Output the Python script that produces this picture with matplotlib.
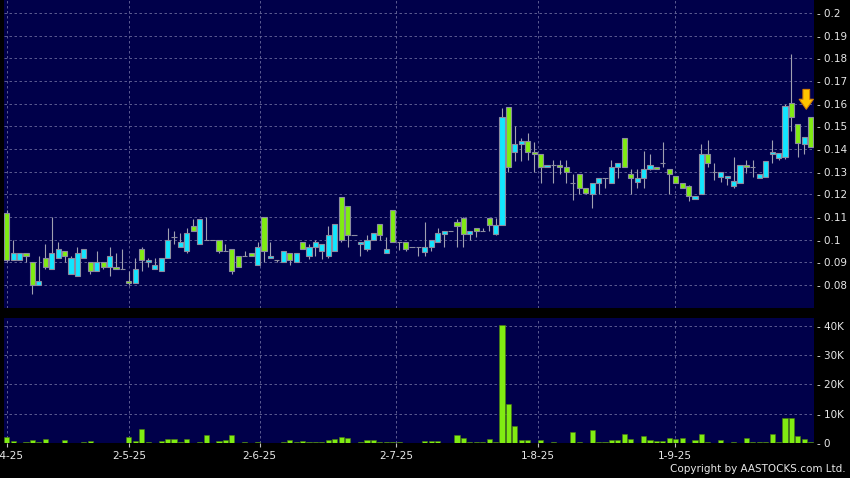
import numpy as np
import matplotlib
matplotlib.use("Agg")
import matplotlib.pyplot as plt
from matplotlib.ticker import FuncFormatter

# daily candles, 1 Apr 2025 .. end Sep 2025
opens = [0.112, 0.091, 0.091, 0.094, 0.090, 0.080, 0.092, 0.087, 0.092, 0.095,
         0.085, 0.084, 0.092, 0.090, 0.086, 0.090, 0.088, 0.088, 0.087, 0.082,
         0.081, 0.096, 0.090, 0.087, 0.086, 0.092, 0.101, 0.097, 0.095, 0.106,
         0.098, 0.100, 0.100, 0.100, 0.095, 0.096, 0.093, 0.093, 0.094, 0.089,
         0.110, 0.092, 0.091, 0.090, 0.094, 0.090, 0.099, 0.093, 0.097, 0.095,
         0.093, 0.095, 0.119, 0.115, 0.102, 0.098, 0.096, 0.100, 0.107, 0.094,
         0.113, 0.099, 0.099, 0.097, 0.097, 0.0946, 0.097, 0.099, 0.1026, 0.104,
         0.108, 0.1096, 0.1026, 0.105, 0.104, 0.1096, 0.1026, 0.1066, 0.1585, 0.1387,
         0.142, 0.1437, 0.1387, 0.1378, 0.132, 0.1328, 0.133, 0.132, 0.125, 0.1288,
         0.123, 0.120, 0.125, 0.127, 0.125, 0.132, 0.145, 0.129, 0.1256, 0.127,
         0.131, 0.132, 0.134, 0.131, 0.128, 0.125, 0.1238, 0.1178, 0.120, 0.138,
         0.130, 0.1278, 0.1271, 0.1238, 0.1249, 0.1331, 0.1319, 0.1271, 0.1278, 0.1378,
         0.1359, 0.1366, 0.1601, 0.1509, 0.142, 0.154]
highs = [0.113, 0.100, 0.094, 0.094, 0.090, 0.093, 0.098, 0.110, 0.099, 0.095,
         0.093, 0.097, 0.096, 0.090, 0.095, 0.090, 0.097, 0.094, 0.096, 0.086,
         0.092, 0.097, 0.092, 0.092, 0.092, 0.105, 0.104, 0.103, 0.105, 0.109,
         0.109, 0.110, 0.100, 0.100, 0.098, 0.096, 0.093, 0.095, 0.094, 0.099,
         0.110, 0.099, 0.091, 0.095, 0.094, 0.094, 0.099, 0.098, 0.100, 0.098,
         0.106, 0.107, 0.119, 0.115, 0.102, 0.099, 0.102, 0.103, 0.107, 0.101,
         0.113, 0.099, 0.099, 0.097, 0.097, 0.108, 0.100, 0.105, 0.104, 0.104,
         0.109, 0.110, 0.104, 0.105, 0.105, 0.1096, 0.1096, 0.158, 0.1585, 0.150,
         0.145, 0.147, 0.143, 0.138, 0.133, 0.135, 0.135, 0.135, 0.129, 0.129,
         0.123, 0.125, 0.127, 0.127, 0.135, 0.134, 0.145, 0.131, 0.131, 0.139,
         0.138, 0.132, 0.143, 0.131, 0.128, 0.125, 0.124, 0.1193, 0.142, 0.144,
         0.134, 0.130, 0.1281, 0.1366, 0.1329, 0.1353, 0.1353, 0.1288, 0.1349, 0.144,
         0.1381, 0.160, 0.182, 0.1509, 0.1451, 0.154]
lows = [0.090, 0.091, 0.091, 0.090, 0.076, 0.080, 0.087, 0.087, 0.092, 0.090,
        0.085, 0.084, 0.092, 0.085, 0.086, 0.087, 0.084, 0.087, 0.087, 0.080,
        0.081, 0.086, 0.088, 0.087, 0.086, 0.092, 0.098, 0.097, 0.094, 0.104,
        0.098, 0.100, 0.100, 0.094, 0.095, 0.085, 0.088, 0.093, 0.093, 0.089,
        0.090, 0.092, 0.090, 0.090, 0.089, 0.090, 0.096, 0.0915, 0.093, 0.0915,
        0.092, 0.095, 0.099, 0.097, 0.102, 0.093, 0.095, 0.100, 0.100, 0.094,
        0.099, 0.0955, 0.095, 0.097, 0.093, 0.093, 0.095, 0.099, 0.097, 0.104,
        0.097, 0.097, 0.100, 0.101, 0.104, 0.104, 0.102, 0.1066, 0.130, 0.1346,
        0.1346, 0.135, 0.130, 0.125, 0.132, 0.125, 0.129, 0.125, 0.1175, 0.120,
        0.120, 0.114, 0.120, 0.123, 0.125, 0.127, 0.132, 0.120, 0.123, 0.123,
        0.1307, 0.131, 0.132, 0.120, 0.125, 0.123, 0.117, 0.1178, 0.120, 0.132,
        0.1263, 0.1256, 0.124, 0.123, 0.1249, 0.1294, 0.1278, 0.1271, 0.1278, 0.134,
        0.1352, 0.1356, 0.148, 0.1366, 0.138, 0.1407]
closes = [0.091, 0.094, 0.094, 0.093, 0.080, 0.082, 0.088, 0.094, 0.096, 0.093,
          0.092, 0.094, 0.096, 0.086, 0.090, 0.088, 0.093, 0.087, 0.087, 0.081,
          0.087, 0.091, 0.091, 0.089, 0.092, 0.100, 0.101, 0.099, 0.103, 0.104,
          0.109, 0.100, 0.100, 0.095, 0.095, 0.086, 0.088, 0.093, 0.093, 0.097,
          0.095, 0.093, 0.091, 0.095, 0.091, 0.094, 0.096, 0.097, 0.099, 0.098,
          0.102, 0.107, 0.100, 0.102, 0.102, 0.099, 0.100, 0.103, 0.102, 0.096,
          0.099, 0.099, 0.096, 0.097, 0.097, 0.097, 0.100, 0.103, 0.104, 0.104,
          0.106, 0.1026, 0.104, 0.104, 0.104, 0.1066, 0.1066, 0.154, 0.132, 0.142,
          0.1437, 0.1387, 0.1378, 0.132, 0.133, 0.1328, 0.132, 0.130, 0.125, 0.123,
          0.1207, 0.125, 0.127, 0.127, 0.132, 0.134, 0.132, 0.127, 0.127, 0.131,
          0.133, 0.131, 0.134, 0.129, 0.125, 0.123, 0.1193, 0.1193, 0.138, 0.134,
          0.130, 0.130, 0.1281, 0.1259, 0.1329, 0.132, 0.1319, 0.1288, 0.1349, 0.1388,
          0.1381, 0.159, 0.154, 0.1428, 0.1451, 0.1407]
# volume in thousands of shares
volumes = [2.2, 0.6, 0.1, 0.3, 1.0, 0.3, 1.4, 0.1, 0.1, 0.9,
           0.1, 0.1, 0.3, 0.8, 0.1, 0.1, 0.1, 0.1, 0.1, 2.0,
           0.8, 4.9, 0.2, 0.1, 0.6, 1.4, 1.4, 0.3, 1.2, 0.1,
           0.3, 2.6, 0.1, 0.7, 1.1, 2.7, 0.1, 0.3, 0.1, 0.3,
           0.1, 0.1, 0.1, 0.4, 1.1, 0.2, 0.8, 0.3, 0.4, 0.4,
           1.1, 1.4, 2.2, 1.8, 0.1, 0.3, 0.9, 1.0, 0.4, 0.4,
           0.4, 0.3, 0.1, 0.1, 0.1, 0.7, 0.6, 0.6, 0.1, 0.1,
           2.7, 1.8, 0.3, 0.3, 0.3, 1.5, 0.3, 40.2, 13.4, 5.8,
           1.0, 1.0, 0.1, 0.9, 0.1, 0.2, 0.1, 0.1, 3.6, 0.3,
           0.1, 4.4, 0.3, 0.3, 1.0, 0.9, 3.2, 1.4, 0.1, 2.3,
           1.0, 0.7, 0.8, 1.8, 1.5, 1.8, 0.1, 0.9, 3.2, 0.4,
           0.1, 1.0, 0.1, 0.4, 0.1, 1.8, 0.2, 0.2, 0.2, 3.2,
           0.3, 8.7, 8.7, 2.3, 1.5, 0.3]
date_labels = ["1-4-25", "2-5-25", "2-6-25", "2-7-25", "1-8-25", "1-9-25"]
date_pos = [0, 19.05, 39.3, 60.5, 82.6, 103.9]
price_ticks = [0.08, 0.09, 0.10, 0.11, 0.12, 0.13, 0.14, 0.15, 0.16, 0.17, 0.18, 0.19, 0.20]
vol_ticks = [0, 10, 20, 30, 40]

BG = "#00004a"
UP = "#12e6ff"
DOWN = "#80ec12"
EDGE = "#8c8ca0"
GRID = "#6a6a9c"
TXT = "#e8e8e8"
FS = 7.5

o = np.array(opens); h = np.array(highs); l = np.array(lows); c = np.array(closes)
x = np.arange(len(o))
up = c >= o
colors = np.where(up, UP, DOWN)

fig = plt.figure(figsize=(8.5, 4.78), dpi=100, facecolor="black")
ax = fig.add_axes([4 / 850, 1 - 308 / 478, 810 / 850, 308 / 478])
axv = fig.add_axes([4 / 850, 1 - 443 / 478, 810 / 850, 125 / 478], sharex=ax)

for a in (ax, axv):
    a.set_facecolor(BG)
    for s in a.spines.values():
        s.set_visible(False)
    a.grid(True, color=GRID, linestyle=(0, (3, 3)), linewidth=0.6)
    a.set_axisbelow(True)
    a.yaxis.tick_right()
    a.tick_params(axis="y", length=0, pad=2.5, labelsize=FS, labelcolor=TXT)

# candles
ax.vlines(x, l, h, color="#a0a0b0", linewidth=0.8, zorder=2)
ax.bar(x, np.abs(c - o), bottom=np.minimum(o, c), width=0.8, color=colors,
       edgecolor=EDGE, linewidth=0.8, zorder=3)
ax.set_ylim(0.0699, 0.2057)
ax.set_yticks(price_ticks)
ax.yaxis.set_major_formatter(FuncFormatter(lambda v, p: "- %g" % round(v, 2)))
ax.tick_params(axis="x", length=0, labelbottom=False)

ax.annotate("", xy=(124.3, 0.1563), xytext=(124.3, 0.1675),
            arrowprops=dict(arrowstyle="simple,head_length=0.6,head_width=0.85,tail_width=0.4",
                            fc="#ffc400", ec="#d98200", lw=0.8, mutation_scale=12), zorder=5)

# volume
axv.bar(x, volumes, width=0.8, color=DOWN, edgecolor="#4a7a10", linewidth=0.4, zorder=3)
axv.set_ylim(0, 42.7)
axv.set_yticks(vol_ticks)
axv.yaxis.set_major_formatter(FuncFormatter(lambda v, p: "- 0" if v == 0 else "- %dK" % v))
axv.set_xticks(date_pos)
axv.set_xticklabels(date_labels)
axv.tick_params(axis="x", length=3, color="#c0c0c0", pad=3, labelsize=FS, labelcolor=TXT)
axv.set_xlim(-0.42, 125.5)

fig.text(0.995, 0.008, "Copyright by AASTOCKS.com Ltd.", color=TXT, fontsize=FS,
         ha="right", va="bottom")

fig.savefig("out.png", dpi=100, facecolor="black")
